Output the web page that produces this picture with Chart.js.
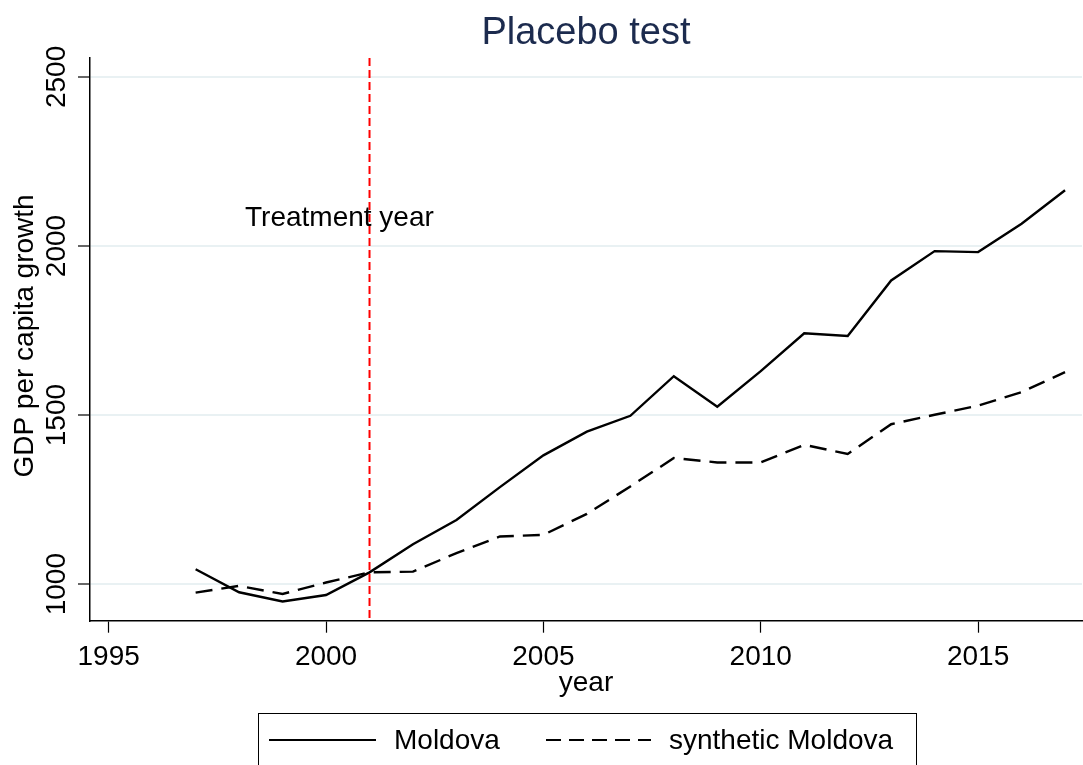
<!DOCTYPE html>
<html>
<head>
<meta charset="utf-8">
<script src="https://cdn.jsdelivr.net/npm/chart.js@4/dist/chart.umd.min.js"></script>
<style>
  html, body { margin: 0; padding: 0; background: #fff; }
</style>
</head>
<body>
<canvas id="placebo" width="1083" height="765"></canvas>
<script>
// data
var years = [1997, 1998, 1999, 2000, 2001, 2002, 2003, 2004, 2005, 2006, 2007,
             2008, 2009, 2010, 2011, 2012, 2013, 2014, 2015, 2016, 2017];
var moldova = [1044, 976, 949, 968, 1035, 1118, 1190, 1287, 1381, 1451, 1498,
               1615, 1525, 1630, 1742, 1734, 1898, 1985, 1982, 2066, 2165];
var synthetic = [975, 995, 971, 1005, 1035, 1037, 1092, 1141, 1146, 1208, 1289,
                 1373, 1360, 1360, 1412, 1385, 1473, 1501, 1528, 1568, 1627];
var xTicks = [1995, 2000, 2005, 2010, 2015];
var yTicks = [1000, 1500, 2000, 2500];
var treatmentYear = 2001;

var FONT = 'Arial, "Liberation Sans", sans-serif';

function toPoints(vals) {
  return years.map(function(y, i) { return { x: y, y: vals[i] }; });
}

// extra drawing: rotated y labels, axis titles, treatment line, legend box
var decorations = {
  id: 'decorations',
  afterDatasetsDraw: function(chart) {
    var ctx = chart.ctx;
    var xs = chart.scales.x;
    var area = chart.chartArea;

    // red dashed treatment line
    var tx = xs.getPixelForValue(treatmentYear);
    ctx.save();
    ctx.strokeStyle = '#ff0000';
    ctx.lineWidth = 2;
    ctx.setLineDash([8, 4]);
    ctx.beginPath();
    ctx.moveTo(tx, area.top);
    ctx.lineTo(tx, area.bottom);
    ctx.stroke();
    ctx.restore();

    ctx.save();
    ctx.fillStyle = '#000';
    ctx.font = '28px ' + FONT;
    ctx.textAlign = 'left';
    ctx.textBaseline = 'middle';
    ctx.fillText('Treatment year', 245, 218);
    ctx.restore();
  },
  afterDraw: function(chart) {
    var ctx = chart.ctx;
    var ys = chart.scales.y;

    ctx.save();
    ctx.fillStyle = '#000';
    ctx.font = '28px ' + FONT;
    ctx.textAlign = 'center';
    ctx.textBaseline = 'middle';

    // y tick labels, vertical
    yTicks.forEach(function(v) {
      var py = ys.getPixelForValue(v);
      ctx.save();
      ctx.translate(57, py);
      ctx.rotate(-Math.PI / 2);
      ctx.fillText(String(v), 0, 0);
      ctx.restore();
    });

    // y axis title
    ctx.save();
    ctx.translate(25, 336);
    ctx.rotate(-Math.PI / 2);
    ctx.fillText('GDP per capita growth', 0, 0);
    ctx.restore();

    // x axis title
    ctx.fillText('year', 586, 683);

    // legend box
    ctx.strokeStyle = '#000';
    ctx.lineWidth = 1;
    ctx.strokeRect(258.5, 713.5, 658, 70);

    ctx.lineWidth = 2.2;
    ctx.beginPath();
    ctx.moveTo(269, 740);
    ctx.lineTo(376, 740);
    ctx.stroke();

    ctx.setLineDash([15, 8]);
    ctx.beginPath();
    ctx.moveTo(546, 740);
    ctx.lineTo(651, 740);
    ctx.stroke();
    ctx.setLineDash([]);

    ctx.textAlign = 'left';
    ctx.fillText(chart.data.datasets[0].label, 394, 741);
    ctx.fillText(chart.data.datasets[1].label, 669, 741);
    ctx.restore();
  }
};

var ctx = document.getElementById('placebo').getContext('2d');
var chart = new Chart(ctx, {
  type: 'line',
  data: {
    datasets: [{
      label: 'Moldova',
      data: toPoints(moldova),
      borderColor: '#000',
      borderWidth: 2.4,
      pointRadius: 0,
      tension: 0
    }, {
      label: 'synthetic Moldova',
      data: toPoints(synthetic),
      borderColor: '#000',
      borderWidth: 2.4,
      borderDash: [17, 9],
      pointRadius: 0,
      tension: 0
    }]
  },
  options: {
    responsive: false,
    animation: false,
    layout: { padding: { left: 0, right: 1, top: 0, bottom: 0 } },
    plugins: {
      legend: { display: false },
      tooltip: { enabled: false },
      title: {
        display: true,
        fullSize: false,
        text: 'Placebo test',
        color: '#1c2b4e',
        font: { family: FONT, size: 38, weight: 'normal' },
        padding: { top: 11, bottom: 1.4 }
      }
    },
    scales: {
      x: {
        type: 'linear',
        min: 1994.57,
        max: 2017.39,
        afterBuildTicks: function(s) {
          s.ticks = xTicks.map(function(v) { return { value: v }; });
        },
        afterFit: function(s) { s.height = 144.3; },
        ticks: {
          color: '#000',
          padding: 8,
          font: { family: FONT, size: 28 },
          maxRotation: 0,
          callback: function(v) { return String(v); }
        },
        grid: { drawOnChartArea: false, tickLength: 12, tickColor: '#000', tickWidth: 1.2 },
        border: { display: true, color: '#000', width: 1.5 }
      },
      y: {
        type: 'linear',
        min: 892,
        max: 2556,
        afterBuildTicks: function(s) {
          s.ticks = yTicks.map(function(v) { return { value: v }; });
        },
        afterFit: function(s) { s.width = 90; },
        ticks: { display: false },
        grid: { color: '#e9f1f3', lineWidth: 2, tickLength: 12, tickColor: '#000', tickWidth: 1.2 },
        border: { display: true, color: '#000', width: 1.5 }
      }
    }
  },
  plugins: [decorations]
});
</script>
</body>
</html>
